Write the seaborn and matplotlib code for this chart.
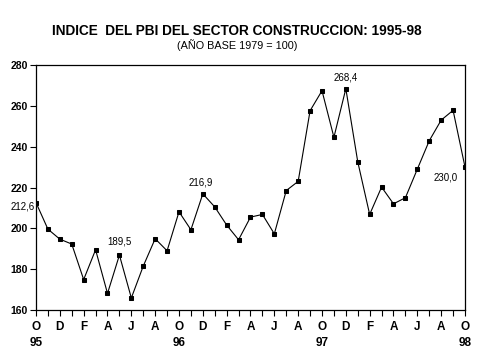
import numpy as np
import pandas as pd
import matplotlib
matplotlib.use("Agg")
import matplotlib.pyplot as plt
import seaborn as sns

# Monthly index, Oct 1995 - Oct 1998
months = ["O", "N", "D", "E", "F", "M", "A", "M", "J", "J", "A", "S"] * 3 + ["O"]
years = {0: "95", 12: "96", 24: "97", 36: "98"}
values = [212.6, 199.6, 194.7, 192.3, 174.9, 189.5, 168.1, 186.9, 165.9, 181.5,
          194.9, 189.0, 208.1, 199.3, 216.9, 210.5, 201.6, 194.4, 205.5, 206.8,
          197.3, 218.5, 223.0, 257.6, 267.4, 244.6, 268.4, 232.6, 206.8, 220.2,
          212.0, 215.0, 229.0, 242.9, 253.0, 257.8, 230.0]
# labelled points: index -> (text, offset in px, alignment)
labels = {0: ("212,6", (-1, -4), "right"),
          5: ("189,5", (24, 8), "center"),
          14: ("216,9", (-2, 11), "center"),
          26: ("268,4", (0, 11), "center"),
          36: ("230,0", (-19, -10), "center")}
yticks = [160, 180, 200, 220, 240, 260, 280]

df = pd.DataFrame({"t": np.arange(len(values)), "indice": values})

sns.set_style("ticks")
plt.rcParams["font.family"] = ["Liberation Sans", "DejaVu Sans"]
plt.rcParams["text.color"] = "black"
plt.rcParams["xtick.color"] = "black"
plt.rcParams["ytick.color"] = "black"
plt.rcParams["axes.edgecolor"] = "black"

fig = plt.figure(figsize=(4.79, 3.59), dpi=100)
ax = fig.add_axes([36 / 479, 49 / 359, 429 / 479, 245 / 359])

sns.lineplot(data=df, x="t", y="indice", ax=ax, color="black", linewidth=0.8,
             marker="s", markersize=3.3, markeredgecolor="black", markerfacecolor="black")

ax.set_xlim(0, len(values) - 1)
ax.set_ylim(160, 280)
ax.set_yticks(yticks)
ax.set_yticklabels([str(v) for v in yticks], fontweight="bold", fontsize=7.5)

xt = list(range(len(values)))
xl = []
for i in xt:
    if i % 2 == 0:
        lab = months[i]
        if i in years:
            lab = lab + "\n" + years[i]
        xl.append(lab)
    else:
        xl.append("")
ax.set_xticks(xt)
ax.set_xticklabels(xl, fontweight="bold", fontsize=8.5, linespacing=1.45)
ax.tick_params(axis="both", direction="out", length=4, width=0.8, color="black")
ax.tick_params(axis="x", pad=4)
ax.tick_params(axis="y", pad=2)

for sp in ax.spines.values():
    sp.set_visible(True)
    sp.set_linewidth(0.9)
    sp.set_color("black")

ax.set_xlabel("")
ax.set_ylabel("")

for i, (txt, (dx, dy), ha) in labels.items():
    ax.annotate(txt, xy=(i, values[i]), xytext=(dx * 0.72, dy * 0.72),
                textcoords="offset points", ha=ha, va="center", fontsize=7)

fig.text(237 / 479, 1 - 31 / 359, "INDICE  DEL PBI DEL SECTOR CONSTRUCCION: 1995-98",
         ha="center", va="center", fontsize=9.8, fontweight="bold")
fig.text(237 / 479, 1 - 45 / 359, "(AÑO BASE 1979 = 100)",
         ha="center", va="center", fontsize=7.8)

fig.savefig("out.png", dpi=100)
